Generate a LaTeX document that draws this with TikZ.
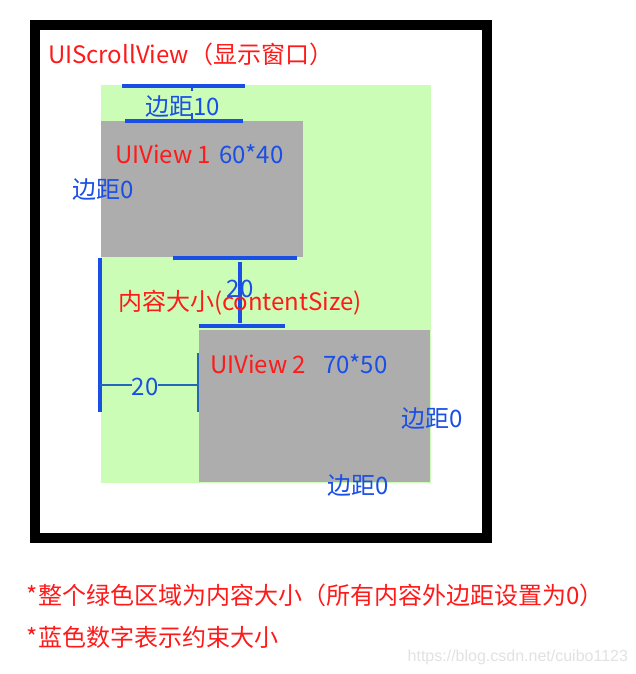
\documentclass[tikz,border=0pt]{standalone}
\usepackage{fontspec}
\setmainfont{Noto Sans CJK SC}
\newfontfamily\markfont{Liberation Sans}
\usetikzlibrary{positioning}
\definecolor{Leaf}{HTML}{CCFDB6}
\definecolor{Stone}{HTML}{ADADAD}
\definecolor{Alarm}{HTML}{FF1A1A}
\definecolor{Ocean}{HTML}{1A4FE6}
\definecolor{Steel}{HTML}{2466B8}
\definecolor{Haze}{HTML}{E2E2E2}
\newcommand{\px}[1]{\fontsize{#1}{#1}\selectfont}

\begin{document}
\begin{tikzpicture}[
  x=1pt,y=-1pt,
  every node/.style={inner sep=0pt,outer sep=0pt},
  area/.style={fill=Leaf,anchor=north west},
  view/.style={fill=Stone,anchor=north west},
  redtxt/.style={text=Alarm,font=\px{24},anchor=west,yshift=-2pt},
  bluetxt/.style={text=Ocean,font=\px{24},anchor=west,yshift=-2pt},
  numtxt/.style={text=Ocean,font=\px{24},yshift=-2pt},
  bar/.style={draw=Ocean,line width=3.2pt},
  stub/.style={draw=Steel,line width=2.8pt}
]
  \useasboundingbox[fill=white] (0,0) rectangle (636,674);
  % window frame
  \draw[line width=10pt] (35,25) rectangle (486.5,538);
  % content area and subviews
  \node[area,minimum width=330pt,minimum height=398pt] (content) at (101,85) {};
  \node[view,minimum width=202pt,minimum height=136pt] (view1) at (101,121) {};
  \node[view,minimum width=231pt,minimum height=152pt] (view2) at (199,330) {};

  % top margin 10
  \coordinate (t1) at (122,86);  \coordinate (t2) at (245,86);
  \coordinate (b1) at (125,121); \coordinate (b2) at (243,121);
  \draw[bar] (t1) -- (t2);
  \draw[bar] (b1) -- (b2);
  \draw[bar,line width=2.4pt] (192,86) -- (192,91);
  \draw[bar,line width=2.4pt] (192,113) -- (192,121);

  % gap 20 between views
  \coordinate (m1) at (173,258); \coordinate (m2) at (297,258);
  \coordinate (n1) at (199,326); \coordinate (n2) at (285,326);
  \draw[bar] (m1) -- (m2);
  \draw[bar] (n1) -- (n2);
  \draw[bar] (240,262) -- (240,323);

  % left offset 20
  \coordinate (l1) at (100,258); \coordinate (l2) at (100,412);
  \coordinate (r1) at (198,353); \coordinate (r2) at (198,412);
  \draw[bar,line width=3.4pt] (l1) -- (l2);
  \draw[stub] (r1) -- (r2);
  \node[numtxt] (left20) at (145,385) {20};
  \draw[stub] (l1 |- 0,385) -- (left20.west |- 0,385);
  \draw[stub] (left20.east |- 0,385) -- (r1 |- 0,385);

  % labels
  \node[redtxt] (title) at (48,52) {UIScrollView（显示窗口）};
  \node[bluetxt] (top10) at (145,105) {边距10};
  \node[redtxt] (name1) at (115,152) {UIView 1};
  \node[bluetxt] (size1) at (219,152) {60*40};
  \node[bluetxt] (left0) at (72,188) {边距0};
  \node[numtxt] (mid20) at (240,287) {20};
  \node[redtxt] (csize) at (118,301) {内容大小(contentSize)};
  \node[redtxt] (name2) at (210,362) {UIView 2};
  \node[bluetxt] (size2) at (323,362) {70*50};
  \node[bluetxt] (right0) at (401,417) {边距0};
  \node[bluetxt] (bottom0) at (327,484) {边距0};

  % notes
  \node[redtxt] (note1) at (27,593) {*整个绿色区域为内容大小（所有内容外边距设置为0）};
  \node[redtxt] (note2) at (27,635) {*蓝色数字表示约束大小};
  \node[text=Haze,font=\markfont\px{16},anchor=east] (mark) at (628,657) {https://blog.csdn.net/cuibo1123};
\end{tikzpicture}
\end{document}
